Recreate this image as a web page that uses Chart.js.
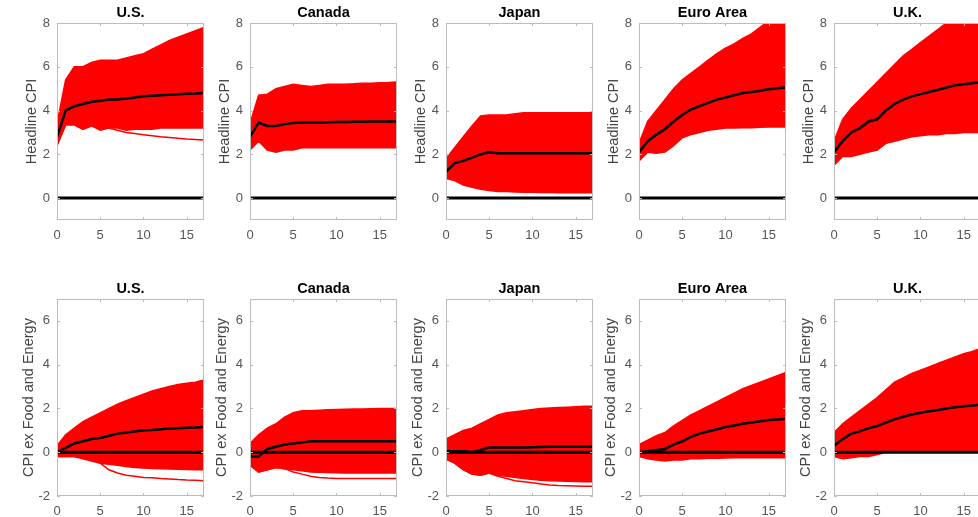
<!DOCTYPE html>
<html>
<head>
<meta charset="utf-8">
<script src="https://cdn.jsdelivr.net/npm/chart.js@4.4.1/dist/chart.umd.min.js"></script>
<style>
    html, body { margin: 0; padding: 0; background: #fff; width: 978px; height: 517px; overflow: hidden; }
    .panel { position: absolute; width: 192px; height: 246px; }
</style>
</head>
<body>
<div id="grid"></div>
<script>
(function() {
    'use strict';

    // ===================================
    // Data
    // ===================================
    const horizon = [0, 1, 2, 3, 4, 5, 6, 7, 8, 9, 10, 11, 12, 13, 14, 15, 16, 17];
    const xTicks = [0, 5, 10, 15];
    const headTicks = [0, 2, 4, 6, 8];
    const coreTicks = [-2, 0, 2, 4, 6];
    const zeroLine = [0, 0, 0, 0, 0, 0, 0, 0, 0, 0, 0, 0, 0, 0, 0, 0, 0, 0];
    const countries = ['U.S.', 'Canada', 'Japan', 'Euro Area', 'U.K.'];

    // Headline CPI: median, upper and lower envelope of the simulated paths
    const usHeadMed = [2.8, 4.0, 4.2, 4.3, 4.4, 4.45, 4.5, 4.5, 4.55, 4.6, 4.65, 4.68, 4.7, 4.72, 4.75, 4.77, 4.78, 4.8];
    const usHeadHi  = [3.4, 5.4, 6.0, 6.0, 6.2, 6.3, 6.3, 6.3, 6.4, 6.5, 6.6, 6.8, 7.0, 7.2, 7.35, 7.5, 7.65, 7.8];
    const usHeadLo  = [2.4, 3.35, 3.35, 3.15, 3.3, 3.1, 3.2, 3.2, 3.1, 3.15, 3.15, 3.15, 3.2, 3.2, 3.2, 3.2, 3.2, 3.2];
    const usHeadOut = [2.4, 3.35, 3.35, 3.15, 3.3, 3.2, 3.2, 3.1, 3.0, 2.95, 2.9, 2.85, 2.8, 2.77, 2.73, 2.7, 2.68, 2.65];

    const caHeadMed = [2.8, 3.45, 3.3, 3.3, 3.38, 3.43, 3.45, 3.45, 3.45, 3.47, 3.48, 3.48, 3.49, 3.49, 3.5, 3.5, 3.5, 3.5];
    const caHeadHi  = [3.4, 4.7, 4.75, 5.0, 5.1, 5.2, 5.15, 5.1, 5.15, 5.2, 5.2, 5.2, 5.22, 5.25, 5.25, 5.27, 5.28, 5.3];
    const caHeadLo  = [2.2, 2.6, 2.2, 2.1, 2.2, 2.2, 2.3, 2.3, 2.3, 2.3, 2.3, 2.3, 2.3, 2.3, 2.3, 2.3, 2.3, 2.3];

    const jpHeadMed = [1.2, 1.6, 1.7, 1.85, 2.0, 2.1, 2.05, 2.05, 2.05, 2.05, 2.05, 2.05, 2.05, 2.05, 2.05, 2.05, 2.05, 2.05];
    const jpHeadHi  = [1.8, 2.3, 2.8, 3.3, 3.75, 3.8, 3.8, 3.8, 3.85, 3.9, 3.9, 3.9, 3.9, 3.9, 3.9, 3.9, 3.9, 3.9];
    const jpHeadLo  = [0.9, 0.8, 0.6, 0.5, 0.4, 0.35, 0.3, 0.3, 0.28, 0.27, 0.27, 0.26, 0.26, 0.25, 0.25, 0.25, 0.25, 0.25];

    const euHeadMed = [2.1, 2.6, 2.9, 3.15, 3.5, 3.8, 4.05, 4.2, 4.35, 4.5, 4.6, 4.7, 4.8, 4.85, 4.9, 4.97, 5.02, 5.05];
    const euHeadHi  = [2.5, 3.5, 4.0, 4.5, 5.0, 5.4, 5.7, 6.0, 6.3, 6.6, 6.85, 7.05, 7.3, 7.5, 7.8, 8.1, 8.3, 8.5];
    const euHeadLo  = [1.7, 2.1, 2.05, 2.1, 2.4, 2.75, 2.9, 3.0, 3.1, 3.15, 3.2, 3.2, 3.22, 3.22, 3.24, 3.25, 3.25, 3.25];

    const ukHeadMed = [2.1, 2.6, 3.0, 3.2, 3.5, 3.6, 4.0, 4.3, 4.5, 4.65, 4.75, 4.85, 4.95, 5.05, 5.15, 5.2, 5.25, 5.3];
    const ukHeadHi  = [2.6, 3.6, 4.1, 4.5, 4.9, 5.3, 5.7, 6.1, 6.5, 6.8, 7.1, 7.4, 7.7, 8.0, 8.2, 8.4, 8.6, 8.8];
    const ukHeadLo  = [1.5, 1.9, 1.9, 2.0, 2.1, 2.2, 2.5, 2.6, 2.7, 2.8, 2.85, 2.9, 2.9, 2.95, 2.95, 3.0, 3.0, 3.0];

    // CPI ex Food and Energy
    const usCoreMed = [0.0, 0.2, 0.4, 0.5, 0.6, 0.65, 0.75, 0.85, 0.9, 0.95, 1.0, 1.02, 1.05, 1.08, 1.1, 1.12, 1.13, 1.15];
    const usCoreHi  = [0.3, 0.8, 1.1, 1.4, 1.6, 1.8, 2.0, 2.2, 2.35, 2.5, 2.65, 2.8, 2.9, 3.0, 3.1, 3.15, 3.2, 3.3];
    const usCoreLo  = [-0.2, -0.2, -0.2, -0.3, -0.4, -0.5, -0.55, -0.6, -0.65, -0.7, -0.72, -0.74, -0.76, -0.77, -0.78, -0.79, -0.8, -0.8];
    const usCoreOut = [-0.2, -0.2, -0.2, -0.25, -0.3, -0.5, -0.8, -0.95, -1.05, -1.1, -1.15, -1.17, -1.2, -1.22, -1.25, -1.27, -1.28, -1.3];

    const caCoreMed = [-0.2, -0.2, 0.15, 0.25, 0.35, 0.4, 0.45, 0.5, 0.5, 0.5, 0.5, 0.5, 0.5, 0.5, 0.5, 0.5, 0.5, 0.5];
    const caCoreHi  = [0.4, 0.8, 1.1, 1.3, 1.6, 1.8, 1.9, 1.9, 1.92, 1.94, 1.95, 1.96, 1.97, 1.98, 1.99, 2.0, 2.0, 2.0];
    const caCoreLo  = [-0.6, -0.9, -0.8, -0.7, -0.75, -0.8, -0.85, -0.9, -0.92, -0.93, -0.94, -0.95, -0.95, -0.95, -0.95, -0.95, -0.95, -0.95];
    const caCoreOut = [-0.6, -0.9, -0.8, -0.7, -0.75, -0.9, -1.0, -1.1, -1.15, -1.18, -1.2, -1.2, -1.2, -1.2, -1.2, -1.2, -1.2, -1.2];

    const jpCoreMed = [0.05, 0.05, 0.05, 0.0, 0.1, 0.22, 0.22, 0.22, 0.22, 0.22, 0.23, 0.24, 0.25, 0.25, 0.25, 0.25, 0.25, 0.25];
    const jpCoreHi  = [0.6, 0.8, 1.0, 1.1, 1.3, 1.5, 1.7, 1.8, 1.85, 1.9, 1.95, 2.0, 2.02, 2.04, 2.06, 2.08, 2.1, 2.1];
    const jpCoreLo  = [-0.3, -0.5, -0.8, -1.0, -1.05, -0.95, -1.05, -1.1, -1.15, -1.2, -1.25, -1.28, -1.3, -1.32, -1.33, -1.34, -1.35, -1.35];
    const jpCoreOut = [-0.3, -0.5, -0.8, -1.0, -1.05, -0.95, -1.1, -1.2, -1.3, -1.35, -1.4, -1.45, -1.5, -1.52, -1.53, -1.54, -1.55, -1.55];

    const euCoreMed = [0.0, 0.05, 0.1, 0.15, 0.35, 0.5, 0.7, 0.85, 0.95, 1.05, 1.15, 1.22, 1.3, 1.36, 1.42, 1.47, 1.5, 1.53];
    const euCoreHi  = [0.35, 0.55, 0.75, 0.9, 1.2, 1.45, 1.7, 1.9, 2.1, 2.3, 2.5, 2.7, 2.9, 3.05, 3.2, 3.35, 3.5, 3.65];
    const euCoreLo  = [-0.2, -0.3, -0.35, -0.4, -0.35, -0.35, -0.3, -0.3, -0.28, -0.27, -0.26, -0.25, -0.25, -0.25, -0.25, -0.25, -0.25, -0.25];

    const ukCoreMed = [0.3, 0.6, 0.85, 0.95, 1.1, 1.2, 1.35, 1.5, 1.62, 1.72, 1.8, 1.87, 1.93, 2.0, 2.05, 2.1, 2.13, 2.17];
    const ukCoreHi  = [0.9, 1.3, 1.6, 1.9, 2.2, 2.5, 2.85, 3.2, 3.4, 3.6, 3.75, 3.9, 4.05, 4.2, 4.35, 4.5, 4.6, 4.75];
    const ukCoreLo  = [-0.2, -0.3, -0.25, -0.2, -0.2, -0.1, 0.0, 0.0, 0.0, 0.0, 0.0, 0.0, 0.0, 0.0, 0.0, 0.0, 0.0, 0.0];

    // ===================================
    // Layout (plot area of each panel, in page pixels)
    // ===================================
    const plotLefts = [57, 250, 446, 639, 834];
    const rowTops = [23, 299];
    const AXIS_W = 40;
    const TITLE_H = 21;

    const rows = [
        {
            label: 'Headline CPI', min: -1, max: 8, ticks: headTicks, titlePad: 6,
            series: [
                [usHeadMed, usHeadHi, usHeadLo, usHeadOut],
                [caHeadMed, caHeadHi, caHeadLo, null],
                [jpHeadMed, jpHeadHi, jpHeadLo, null],
                [euHeadMed, euHeadHi, euHeadLo, null],
                [ukHeadMed, ukHeadHi, ukHeadLo, null]
            ]
        },
        {
            label: 'CPI ex Food and Energy', min: -2, max: 7, ticks: coreTicks, titlePad: 3,
            series: [
                [usCoreMed, usCoreHi, usCoreLo, usCoreOut],
                [caCoreMed, caCoreHi, caCoreLo, caCoreOut],
                [jpCoreMed, jpCoreHi, jpCoreLo, jpCoreOut],
                [euCoreMed, euCoreHi, euCoreLo, null],
                [ukCoreMed, ukCoreHi, ukCoreLo, null]
            ]
        }
    ];

    const RED = '#ff0000';
    const FONT = "'Liberation Sans', Arial, sans-serif";

    /**
     * Matlab-like axes box with small inward ticks on all sides,
     * plus the panel title centred over the plot area
     */
    const boxPlugin = {
        id: 'matlabBox',
        afterDatasetsDraw(chart, args, opts) {
            const { ctx, chartArea: a, scales } = chart;
            ctx.save();
            ctx.strokeStyle = '#bcbcbc';
            ctx.lineWidth = 1;
            ctx.strokeRect(a.left + 0.5, a.top + 0.5, a.width - 1, a.height - 1);
            ctx.beginPath();
            scales.x.ticks.forEach(t => {
                const px = Math.round(scales.x.getPixelForValue(t.value)) + 0.5;
                ctx.moveTo(px, a.bottom); ctx.lineTo(px, a.bottom - 3);
                ctx.moveTo(px, a.top); ctx.lineTo(px, a.top + 3);
            });
            scales.y.ticks.forEach(t => {
                const py = Math.round(scales.y.getPixelForValue(t.value)) + 0.5;
                ctx.moveTo(a.left, py); ctx.lineTo(a.left + 3, py);
                ctx.moveTo(a.right, py); ctx.lineTo(a.right - 3, py);
            });
            ctx.stroke();

            // title
            ctx.fillStyle = '#000';
            ctx.font = 'bold 14.5px ' + FONT;
            ctx.textAlign = 'center';
            ctx.textBaseline = 'middle';
            ctx.fillText(opts.title, (a.left + a.right) / 2, a.top - 10);
            ctx.restore();
        }
    };

    function toPoints(arr) {
        return horizon.map((h, i) => ({ x: h, y: arr[i] }));
    }

    function lineSet(arr, color, width, extra) {
        return Object.assign({
            data: toPoints(arr),
            borderColor: color,
            backgroundColor: color,
            borderWidth: width,
            pointRadius: 0,
            tension: 0,
            fill: false
        }, extra || {});
    }

    const grid = document.getElementById('grid');

    rows.forEach((row, r) => {
        row.series.forEach((s, c) => {
            const [med, hi, lo, out] = s;
            const wrap = document.createElement('div');
            wrap.className = 'panel';
            wrap.style.left = (plotLefts[c] - AXIS_W) + 'px';
            wrap.style.top = (rowTops[r] - TITLE_H) + 'px';
            const canvas = document.createElement('canvas');
            wrap.appendChild(canvas);
            grid.appendChild(wrap);

            // first dataset is drawn on top
            const datasets = [
                lineSet(med, '#000', 2.5),
                lineSet(zeroLine, '#000', 3)
            ];
            if (out) datasets.push(lineSet(out, RED, 1.5));
            datasets.push(lineSet(hi, RED, 1.5, { fill: '+1' }));
            datasets.push(lineSet(lo, RED, 1.5));

            new Chart(canvas, {
                type: 'line',
                data: { datasets: datasets },
                options: {
                    responsive: true,
                    maintainAspectRatio: false,
                    animation: false,
                    events: [],
                    layout: { padding: { left: 0, right: 5, top: TITLE_H, bottom: 0 } },
                    plugins: {
                        legend: { display: false },
                        tooltip: { enabled: false },
                        title: { display: false },
                        matlabBox: { title: countries[c] }
                    },
                    scales: {
                        x: {
                            type: 'linear',
                            min: 0,
                            max: 17,
                            grid: { display: false, drawTicks: false },
                            border: { display: false },
                            afterBuildTicks: scale => { scale.ticks = xTicks.map(v => ({ value: v })); },
                            afterFit: scale => { scale.height = 28; },
                            ticks: {
                                color: '#555',
                                padding: 8,
                                maxRotation: 0,
                                font: { family: FONT, size: 13 }
                            }
                        },
                        y: {
                            type: 'linear',
                            min: row.min,
                            max: row.max,
                            grid: { display: false, drawTicks: false },
                            border: { display: false },
                            afterBuildTicks: scale => { scale.ticks = row.ticks.map(v => ({ value: v })); },
                            afterFit: scale => { scale.width = AXIS_W; },
                            ticks: {
                                color: '#555',
                                padding: 7,
                                font: { family: FONT, size: 13 }
                            },
                            title: {
                                display: true,
                                text: row.label,
                                color: '#444',
                                padding: { top: row.titlePad, bottom: 0 },
                                font: { family: FONT, size: 14.5 }
                            }
                        }
                    }
                },
                plugins: [boxPlugin]
            });
        });
    });
})();
</script>
</body>
</html>
